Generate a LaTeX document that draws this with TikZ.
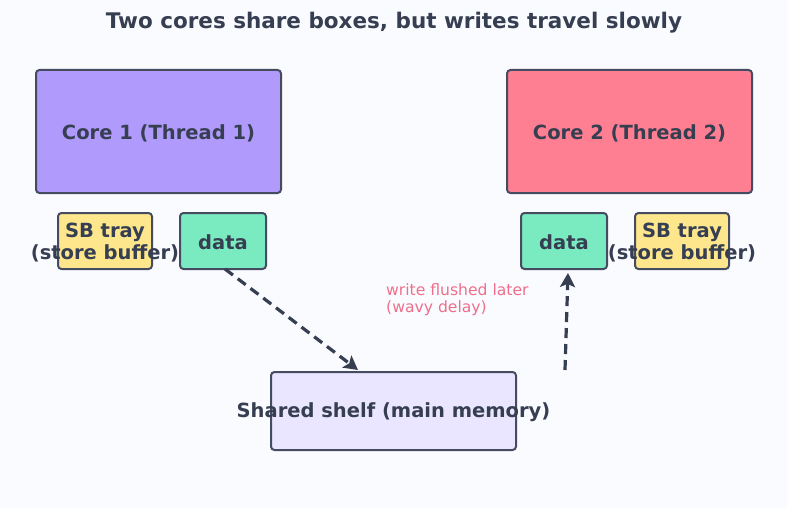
\documentclass[tikz,border=0pt]{standalone}
\usepackage{fontspec}
\setmainfont{DejaVu Sans}
\usetikzlibrary{arrows.meta}
\definecolor{bg}{HTML}{FAFBFE}
\definecolor{edge}{HTML}{454B61}
\definecolor{ink}{HTML}{363E52}
\definecolor{coreA}{HTML}{B09AFB}
\definecolor{coreB}{HTML}{FF7F92}
\definecolor{sbfill}{HTML}{FDE68C}
\definecolor{datafill}{HTML}{7AEBC0}
\definecolor{shelf}{HTML}{EAE6FF}
\definecolor{note}{HTML}{EE6F8C}
\tikzset{
  box/.style={draw=edge, line width=2pt, rounded corners=3.5pt, inner sep=0pt},
  boxtext/.style={text=ink, font=\bfseries\fontsize{19.5}{21.5}\selectfont, inner sep=0pt, align=center, yshift=-1.5pt},
  flow/.style={draw=ink, line width=3.2pt, dash pattern=on 10pt off 6pt, -{Stealth[length=14pt,width=15pt,inset=3pt]}},
}
\begin{document}
\begin{tikzpicture}[x=1pt,y=-1pt]
\fill[bg] (0,0) rectangle (787,508);
\useasboundingbox (0,0) rectangle (787,508);
\node[text=ink, font=\bfseries\fontsize{21.5}{24}\selectfont] (title) at (394,22.5) {Two cores share boxes, but writes travel slowly};
\node[box, fill=coreA, minimum width=245pt, minimum height=123pt] (core1) at (158.5,131.5) {};
\node[boxtext] (core1t) at (core1) {Core 1 (Thread 1)};
\node[box, fill=coreB, minimum width=245pt, minimum height=123pt] (core2) at (629.5,131.5) {};
\node[boxtext] (core2t) at (core2) {Core 2 (Thread 2)};
\node[box, fill=sbfill, minimum width=94pt, minimum height=56pt] (sb1) at (105,241) {};
\node[boxtext] (sb1t) at (sb1) {SB tray\\(store buffer)};
\node[box, fill=datafill, minimum width=86pt, minimum height=56pt] (data1) at (223,241) {};
\node[boxtext] (data1t) at (data1) {data};
\node[box, fill=datafill, minimum width=86pt, minimum height=56pt] (data2) at (564,241) {};
\node[boxtext] (data2t) at (data2) {data};
\node[box, fill=sbfill, minimum width=94pt, minimum height=56pt] (sb2) at (682,241) {};
\node[boxtext] (sb2t) at (sb2) {SB tray\\(store buffer)};
\node[box, fill=shelf, minimum width=245pt, minimum height=78pt] (shelf) at (393.5,411) {};
\node[boxtext] (shelft) at (shelf) {Shared shelf (main memory)};
\node[text=note, font=\fontsize{15.6}{17}\selectfont, align=left, anchor=west, inner sep=0pt] (lbl) at (386,300) {write flushed later\\(wavy delay)};
\coordinate (src1) at (225,269);
\coordinate (dst1) at (358,370);
\coordinate (src2) at (565,370);
\coordinate (dst2) at (568,273);
\draw[flow] (src1) -- (dst1);
\draw[flow] (src2) -- (dst2);
\end{tikzpicture}
\end{document}
